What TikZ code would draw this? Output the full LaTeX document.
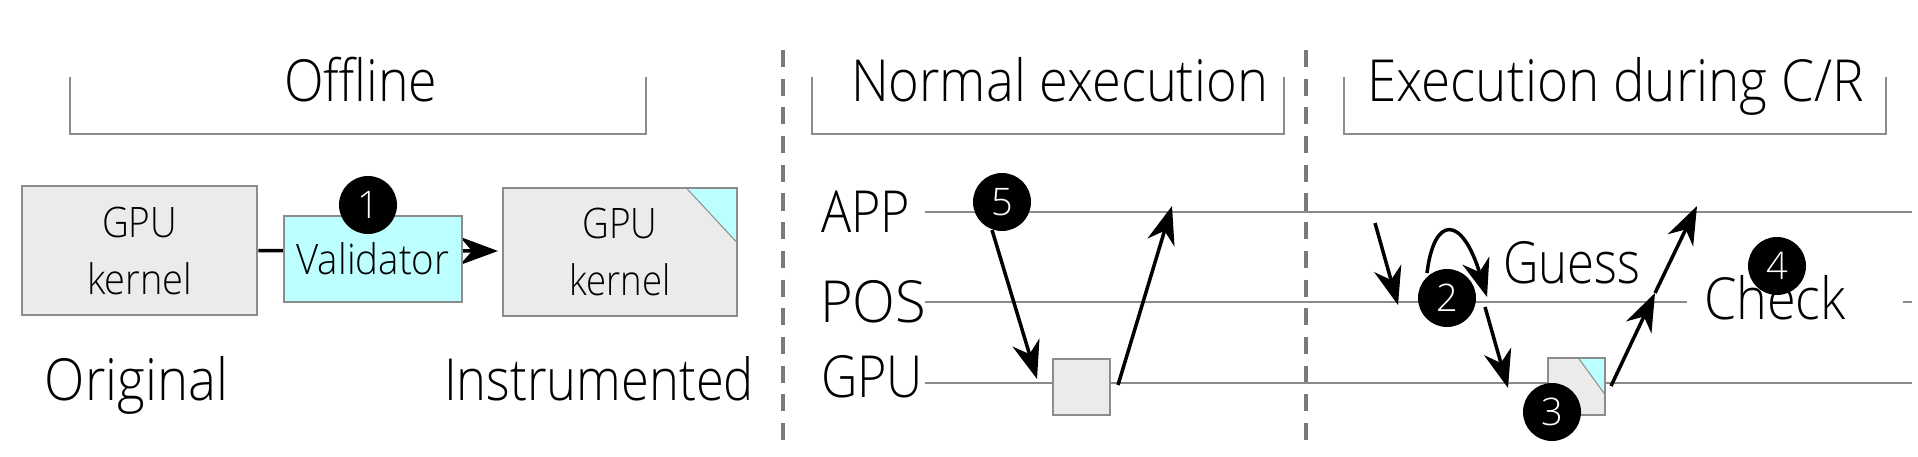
\documentclass[tikz,border=0pt]{standalone}
\usepackage{fontspec}
\IfFontExistsTF{Open Sans Light}{\setmainfont{Open Sans Light}}{\setmainfont{Open Sans}}
\usetikzlibrary{arrows.meta}
\definecolor{linegray}{HTML}{8A8A8A}
\definecolor{sepgray}{HTML}{7A7A7A}
\definecolor{boxline}{HTML}{8C8C8C}
\definecolor{boxfill}{HTML}{EBEBEB}
\definecolor{cyanfill}{HTML}{BDFFFF}
\newcommand{\W}[2]{\resizebox{#1pt}{\height}{#2}}
\begin{document}
\begin{tikzpicture}[x=1pt,y=-1pt,
  big/.style={font=\fontsize{58}{68}\selectfont, inner sep=0pt, anchor=base},
  gbox/.style={draw=boxline, fill=boxfill, line width=2.5pt, inner sep=0pt, align=center,
    font=\fontsize{42}{57}\selectfont},
  gfill/.style={fill=boxfill, inner sep=0pt, align=center,
    font=\fontsize{42}{57}\selectfont},
  cbox/.style={draw=boxline, fill=cyanfill, line width=2.5pt, inner sep=0pt,
    font=\fontsize{42}{57}\selectfont},
  cnum/.style={circle, fill=black, minimum size=58pt, inner sep=0pt, text=white,
    font=\fontsize{38}{40}\selectfont},
  brk/.style={draw=boxline, line width=2.5pt},
  sep/.style={draw=sepgray, line width=3.5pt, dash pattern=on 17pt off 11.7pt},
  tl/.style={draw=linegray, line width=2.5pt},
  arr/.style={draw=black, line width=3.5pt, -{Stealth[length=38pt,width=28pt,inset=12pt]}},
  link/.style={draw=black, line width=3.5pt}
]
\useasboundingbox (0,0) rectangle (1918,457);

% separators
\coordinate (s1t) at (783,50); \coordinate (s1b) at (783,440);
\coordinate (s2t) at (1306,50); \coordinate (s2b) at (1306,440);
\draw[sep] (s1t) -- (s1b);
\draw[sep] (s2t) -- (s2b);

% brackets and titles
\draw[brk] (70,77) -- (70,134) -- (646,134) -- (646,77);
\draw[brk] (812,77) -- (812,134) -- (1284,134) -- (1284,77);
\draw[brk] (1344,77) -- (1344,134) -- (1886,134) -- (1886,77);
\node[big] (toff) at (360.5,102) {\W{153}{Offline}};
\node[big] (tnorm) at (1059.5,102) {\W{417}{Normal execution}};
\node[big] (tcr) at (1615.5,102) {\W{497}{Execution during C/R}};

% offline part
\node[gbox, minimum width=235pt, minimum height=129pt] (orig) at (139.5,250.5)
  {\W{75}{GPU}\\\W{105}{kernel}};
\node[gfill, minimum width=234pt, minimum height=128pt] (instr) at (620,252)
  {\W{75}{GPU}\\\W{101}{kernel}};
\fill[cyanfill] ([xshift=-51pt]instr.north east) -- (instr.north east) -- ([yshift=-55pt]instr.north east) -- cycle;
\draw[boxline, line width=1pt] ([xshift=-51pt]instr.north east) -- ([yshift=-55pt]instr.north east);
\draw[boxline, line width=2.5pt] (instr.south west) rectangle (instr.north east);
\coordinate (vend) at (498,251);
\draw[arr] (orig.east) -- (vend);
\node[cbox, minimum width=178pt, minimum height=86pt] (valid) at (373,259) {\W{153}{Validator}};
\node[cnum] (c1) at (368,205) {1};
\node[big] (lorig) at (136.5,400) {\W{183}{Original}};
\node[big] (linstr) at (599,400) {\W{310}{Instrumented}};

% timelines
\node[big] (lapp) at (865.5,232) {\W{89}{APP}};
\node[big] (lpos) at (873,322) {\W{106}{POS}};
\node[big] (lgpu) at (872,397) {\W{102}{GPU}};
\coordinate (appL) at (925,212); \coordinate (appR) at (1912,212);
\coordinate (posL) at (925,302); \coordinate (posM) at (1687,302);
\coordinate (posN) at (1903,302); \coordinate (posR) at (1912,302);
\coordinate (gpuL) at (925,383); \coordinate (gpuR) at (1912,383);
\draw[tl] (appL) -- (appR);
\draw[tl] (posL) -- (posM);
\draw[tl] (posN) -- (posR);
\draw[tl] (gpuL) -- (gpuR);

% normal execution
\node[gbox, minimum width=57pt, minimum height=56pt] (k1) at (1081.5,387) {};
\coordinate (a5s) at (992,230); \coordinate (a5e) at (1037,379);
\coordinate (r5s) at (1118,385); \coordinate (r5e) at (1172,206);
\draw[arr] (a5s) -- (a5e);
\draw[arr] (r5s) -- (r5e);
\node[cnum] (c5) at (1002,202) {5};

% execution during C/R
\node[gfill, minimum width=57pt, minimum height=57pt] (k2) at (1576.5,386.5) {};
\fill[cyanfill] ([xshift=-27pt]k2.north east) -- (k2.north east) -- ([yshift=-37pt]k2.north east) -- cycle;
\draw[boxline, line width=1pt] ([xshift=-27pt]k2.north east) -- ([yshift=-37pt]k2.north east);
\draw[boxline, line width=2.5pt] (k2.south west) rectangle (k2.north east);

\coordinate (i2s) at (1375,223); \coordinate (i2e) at (1398,305);
\coordinate (l2s) at (1427,273); \coordinate (l2e) at (1487,297);
\coordinate (d3s) at (1485,307); \coordinate (d3e) at (1508,388);
\coordinate (u3s) at (1611,386); \coordinate (u3m) at (1655,293); \coordinate (u3e) at (1697,206);
\draw[arr] (i2s) -- (i2e);
\draw[arr] (l2s) .. controls (1434,215) and (1462,215) .. (l2e);
\draw[arr] (d3s) -- (d3e);
\draw[arr] (u3s) -- (u3m);
\draw[arr] (u3m) -- (u3e);
\node[big] (lguess) at (1571.5,283) {\W{137}{Guess}};
\node[big] (lcheck) at (1775,319) {\W{142}{Check}};
\node[cnum] (c2) at (1447,298) {2};
\node[cnum] (c3) at (1552,412) {3};
\node[cnum] (c4) at (1777,266) {4};
\end{tikzpicture}
\end{document}
